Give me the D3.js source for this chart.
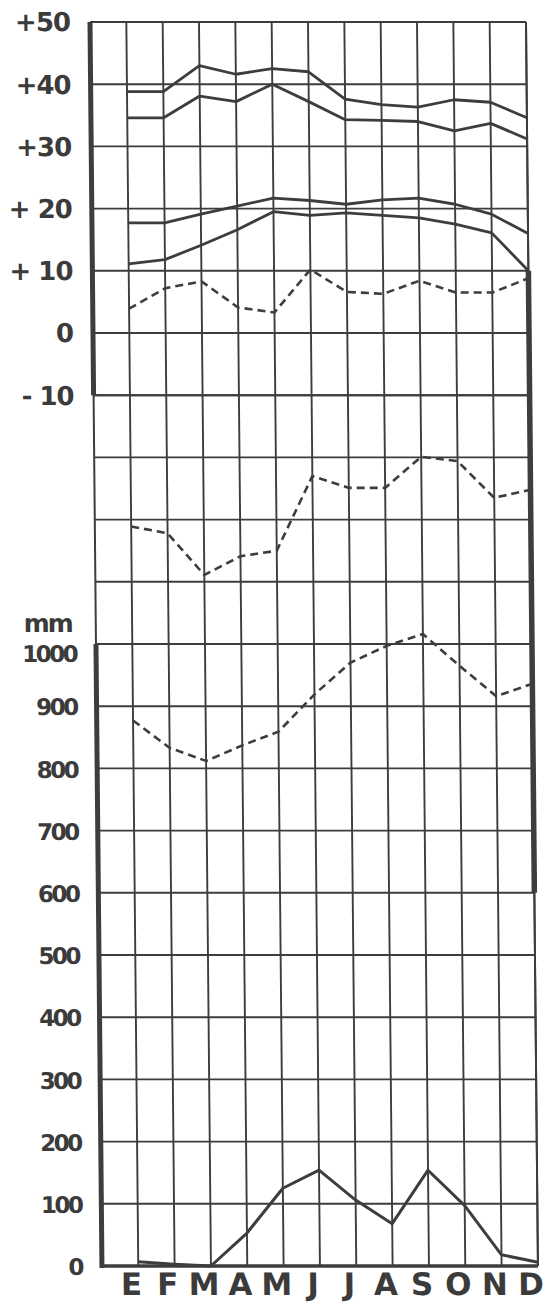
<!DOCTYPE html>
<html>
<head>
<meta charset="utf-8">
<script src="https://cdn.jsdelivr.net/npm/d3@7"></script>
<style>
  html, body { margin: 0; padding: 0; background: #ffffff; }
  svg { display: block; }
  text { font-family: "DejaVu Sans", "Liberation Sans", sans-serif; fill: #3b3b3b; font-weight: bold; }
</style>
</head>
<body>
<svg id="chart" width="545" height="1307"></svg>
<script>
// Months (Spanish initials)
const months = ["E", "F", "M", "A", "M", "J", "J", "A", "S", "O", "N", "D"];

// Temperature (°C): absolute max, second max, mean max, mean, mean min
const tAbsMax  = [38.8, 38.8, 43.0, 41.6, 42.5, 42.0, 37.6, 36.7, 36.3, 37.5, 37.1, 34.6];
const tMax2    = [34.6, 34.6, 38.1, 37.2, 40.0, 37.2, 34.3, 34.2, 34.0, 32.5, 33.7, 31.2];
const tMeanMax = [17.7, 17.7, 19.1, 20.4, 21.7, 21.3, 20.7, 21.4, 21.7, 20.7, 19.1, 16.0];
const tMean    = [11.1, 11.8, 14.1, 16.6, 19.5, 18.9, 19.3, 18.9, 18.5, 17.5, 16.1, 10.0];
const tMin     = [3.9, 7.2, 8.3, 4.1, 3.3, 10.2, 6.6, 6.3, 8.4, 6.5, 6.5, 8.8];

// Lower panel series (mm)
const upperDashed = [1189, 1178, 1111, 1141, 1150, 1270, 1251, 1251, 1301, 1294, 1235, 1248];
const lowerDashed = [877, 833, 812, 837, 859, 919, 970, 997, 1016, 965, 916, 936];
const precip      = [7, 3, 0, 53, 125, 154, 106, 68, 154, 97, 18, 6];

// Axis ticks
const tempTicks   = [50, 40, 30, 20, 10, 0, -10];
const tempLabels  = ["+50", "+40", "+30", "+ 20", "+ 10", "0", "- 10"];
const mmTicks     = [1000, 900, 800, 700, 600, 500, 400, 300, 200, 100, 0];
const mmGridTicks = d3.range(0, 1401, 100);

const svg = d3.select("#chart");
const W = 436, H = 1244;
const ink = "#3d3d3d";

// The sheet is drawn slightly slanted
const g = svg.append("g").attr("transform", "translate(90,22) skewX(0.55)");

const x = d3.scaleLinear().domain([0, 12]).range([0, W]);
const yT = d3.scaleLinear().domain([-10, 50]).range([H * 6 / 20, 0]);
const yM = d3.scaleLinear().domain([0, 1400]).range([H, H * 6 / 20]);

// Vertical grid lines
g.append("g").selectAll("line")
  .data(d3.range(1, 13))
  .join("line")
  .attr("x1", d => x(d)).attr("x2", d => x(d))
  .attr("y1", 0).attr("y2", H)
  .attr("stroke", ink).attr("stroke-width", 1.9);

// Horizontal grid lines: temperature panel and mm panel
g.append("g").selectAll("line")
  .data(tempTicks)
  .join("line")
  .attr("x1", 0).attr("x2", W)
  .attr("y1", d => yT(d)).attr("y2", d => yT(d))
  .attr("stroke", ink).attr("stroke-width", 1.9);
g.append("g").selectAll("line")
  .data(mmGridTicks)
  .join("line")
  .attr("x1", 0).attr("x2", W)
  .attr("y1", d => yM(d)).attr("y2", d => yM(d))
  .attr("stroke", ink).attr("stroke-width", d => d === 0 ? 3.5 : 1.9);

// Frame: thin left edge between panels, thick edges on the scaled parts
g.append("line").attr("x1", 0).attr("x2", 0).attr("y1", 0).attr("y2", H)
  .attr("stroke", ink).attr("stroke-width", 2);
g.append("line").attr("x1", 0).attr("x2", 0).attr("y1", yT(50)).attr("y2", yT(-10))
  .attr("stroke", ink).attr("stroke-width", 5);
g.append("line").attr("x1", 0).attr("x2", 0).attr("y1", yM(1000)).attr("y2", yM(0) + 2)
  .attr("stroke", ink).attr("stroke-width", 5);
g.append("line").attr("x1", W).attr("x2", W).attr("y1", 0).attr("y2", H)
  .attr("stroke", ink).attr("stroke-width", 2);
g.append("line").attr("x1", W).attr("x2", W).attr("y1", yT(10)).attr("y2", yM(600))
  .attr("stroke", ink).attr("stroke-width", 5.5);

// Series lines
const lineT = d3.line().x((d, i) => x(i + 1)).y(d => yT(d));
const lineM = d3.line().x((d, i) => x(i + 1)).y(d => yM(d));

[tAbsMax, tMax2, tMeanMax, tMean].forEach(s => {
  g.append("path").datum(s).attr("d", lineT)
    .attr("fill", "none").attr("stroke", ink).attr("stroke-width", 2.8)
    .attr("stroke-linejoin", "round");
});
g.append("path").datum(tMin).attr("d", lineT)
  .attr("fill", "none").attr("stroke", ink).attr("stroke-width", 2.6)
  .attr("stroke-dasharray", "8,5");

g.append("path").datum(upperDashed).attr("d", lineM)
  .attr("fill", "none").attr("stroke", ink).attr("stroke-width", 2.6)
  .attr("stroke-dasharray", "8,5");
g.append("path").datum(lowerDashed).attr("d", lineM)
  .attr("fill", "none").attr("stroke", ink).attr("stroke-width", 2.6)
  .attr("stroke-dasharray", "8,5");
g.append("path").datum(precip).attr("d", lineM)
  .attr("fill", "none").attr("stroke", ink).attr("stroke-width", 3)
  .attr("stroke-linejoin", "round");

// Temperature labels
g.append("g").selectAll("text")
  .data(tempTicks)
  .join("text")
  .attr("x", -20)
  .attr("y", d => yT(d))
  .attr("dy", "0.36em")
  .attr("text-anchor", "end")
  .attr("font-size", 26)
  .attr("letter-spacing", -1)
  .text((d, i) => tempLabels[i]);

// mm labels
g.append("text")
  .attr("x", -24).attr("y", yM(1000) - 12)
  .attr("text-anchor", "end")
  .attr("font-size", 25)
  .attr("letter-spacing", -2)
  .text("mm");
g.append("g").selectAll("text")
  .data(mmTicks)
  .join("text")
  .attr("x", -20)
  .attr("y", d => yM(d) + (d === 1000 ? 10 : 1))
  .attr("dy", "0.36em")
  .attr("text-anchor", "end")
  .attr("font-size", 23)
  .attr("letter-spacing", -2.5)
  .text(d => d);

// Month labels
g.append("g").selectAll("text")
  .data(months)
  .join("text")
  .attr("x", (d, i) => x(i + 1) - 7)
  .attr("y", H + 29)
  .attr("text-anchor", "middle")
  .attr("font-size", 31)
  .text(d => d);
</script>
</body>
</html>
